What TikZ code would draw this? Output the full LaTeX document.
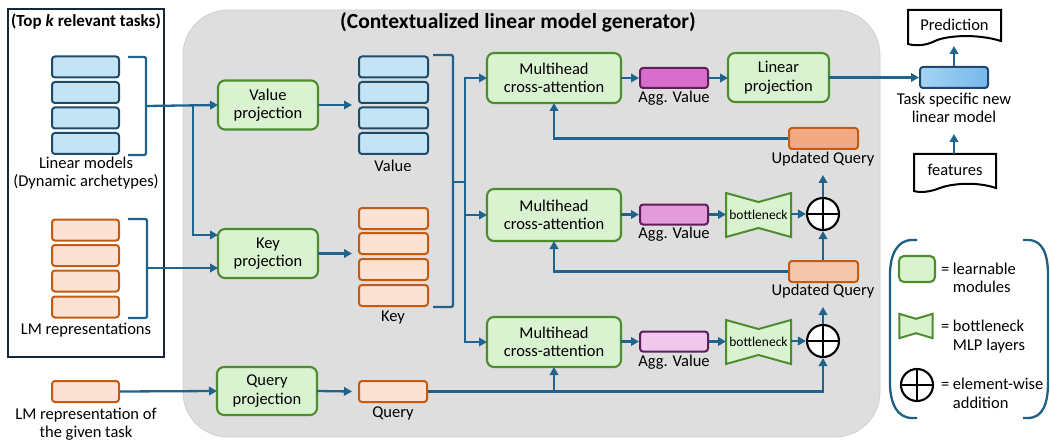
\documentclass[tikz,border=0pt]{standalone}
\usepackage{fontspec}
\setmainfont{Carlito}
\usetikzlibrary{arrows.meta,calc}
\definecolor{arrowc}{RGB}{30,100,140}
\definecolor{gfill}{RGB}{217,242,208}
\definecolor{gdraw}{RGB}{78,140,48}
\definecolor{bfill}{RGB}{196,228,245}
\definecolor{bdraw}{RGB}{30,75,105}
\definecolor{ofill}{RGB}{251,226,213}
\definecolor{odraw}{RGB}{197,90,17}
\definecolor{uqa}{RGB}{242,170,132}
\definecolor{uqb}{RGB}{246,198,172}
\definecolor{ava}{RGB}{216,110,204}
\definecolor{avb}{RGB}{228,155,220}
\definecolor{avc}{RGB}{240,200,236}
\definecolor{avdraw}{RGB}{95,30,88}
\definecolor{bgfill}{RGB}{222,222,222}
\definecolor{bgdraw}{RGB}{208,208,208}
\definecolor{navy}{RGB}{22,40,55}
\definecolor{tbl}{RGB}{165,212,243}
\definecolor{tbr}{RGB}{118,184,234}
\definecolor{tbdraw}{RGB}{30,70,110}
\definecolor{legc}{RGB}{30,95,130}
\tikzset{
  base/.style={font=\fontsize{16.5}{18.5}\selectfont, inner sep=0pt, outer sep=0pt},
  arr/.style={draw=arrowc, line width=2.3pt, -{Triangle[length=8pt,width=8.5pt]}},
  ln/.style={draw=arrowc, line width=2.3pt},
  module/.style={base, draw=gdraw, fill=gfill, line width=2.1pt, rounded corners=7pt, align=center, minimum width=100pt, minimum height=49pt},
  mha/.style={module, minimum width=134pt, minimum height=50pt},
  vbox/.style={draw=bdraw, fill=bfill, line width=2pt, rounded corners=3pt, minimum width=67pt, minimum height=21pt, inner sep=0pt},
  obox/.style={draw=odraw, fill=ofill, line width=2pt, rounded corners=3pt, minimum width=67pt, minimum height=21pt, inner sep=0pt},
  avbox/.style={draw=avdraw, line width=2pt, rounded corners=3pt, minimum width=68pt, minimum height=20pt, inner sep=0pt},
  uqbox/.style={draw=odraw, line width=2pt, rounded corners=3pt, minimum width=69pt, minimum height=21pt, inner sep=0pt},
  lbl/.style={base, align=center},
  plus/.style={circle, draw=black, fill=white, line width=2.1pt, minimum size=32pt, inner sep=0pt},
  bnk/.style={base, font=\fontsize{13.5}{15}\selectfont, minimum width=65pt, minimum height=44pt},
  bnkshape/.style={draw=gdraw, fill=gfill, line width=2pt, line join=miter},
  docshape/.style={draw=black, fill=white, line width=2pt},
}
\begin{document}
\begin{tikzpicture}[x=1pt,y=-1pt]
\useasboundingbox (0,0) rectangle (1050,441);
% backgrounds
\draw[fill=bgfill, draw=bgdraw, line width=0.8pt, rounded corners=45pt] (183,10) rectangle (880,437);
\draw[draw=navy, line width=2.3pt] (8,9) rectangle (164,357);
\node[base, font=\bfseries\fontsize{17}{20}\selectfont] (ttop) at (86,22) {(Top \textit{k} relevant tasks)};
\node[base, font=\bfseries\fontsize{21.5}{24}\selectfont] (tgen) at (518,22) {(Contextualized linear model generator)};

% left stacks
\foreach \y [count=\i] in {67,92.5,118,143.5} \node[vbox] (lm\i) at (85.5,\y) {};
\foreach \y [count=\i] in {230,255.5,281,307} \node[obox] (lr\i) at (85.5,\y) {};
\node[lbl] (tlm) at (86,173) {Linear models\\(Dynamic archetypes)};
\node[lbl] (tlr) at (86,330) {LM representations};
\node[obox] (lmt) at (85.5,391.5) {};
\node[lbl] (tlmt) at (86,424) {LM representation of\\the given task};

% brackets left
\draw[ln, rounded corners=2pt] (128,57) -- (146,57) -- (146,155) -- (128,155);
\draw[ln, rounded corners=2pt] (128,219) -- (147,219) -- (147,318) -- (128,318);
\coordinate (b1) at (146,106);
\coordinate (b2) at (147,268);
\coordinate (j1) at (193,106);

% projections
\node[module] (vp) at (268,105) {Value\\projection};
\node[module] (kp) at (268,253.5) {Key\\projection};
\node[module, minimum height=48pt] (qp) at (267,391) {Query\\projection};

\draw[arr] (b1) -- (vp.west);
\draw[arr] (j1) |- ($(kp.west)+(0,-18.5)$);
\draw[arr] (b2) -- (kp.west |- b2);
\draw[arr] (lmt.east) -- (qp.west);

% value / key / query stacks
\foreach \y [count=\i] in {67,92.5,118,143.5} \node[vbox, minimum width=69pt] (v\i) at (393.5,\y) {};
\foreach \y [count=\i] in {218.5,243.5,269.5,295.5} \node[obox, minimum width=69pt] (k\i) at (393.5,\y) {};
\node[obox, minimum width=68pt] (qr) at (393,391.5) {};
\node[lbl] (tv) at (393,166) {Value};
\node[lbl] (tk) at (393,318) {Key};
\node[lbl] (tq) at (393,413) {Query};

\draw[arr] (vp.east) -- ($(v1.west |- vp.east)+(-6,0)$);
\draw[arr] (kp.east) -- ($(k1.west |- kp.east)+(-6,0)$);
\draw[arr] (qp.east) -- ($(qr.west)+(-6,0)$);

% big bracket
\draw[ln, rounded corners=2pt] (433,55) -- (453,55) -- (453,307) -- (433,307);
\coordinate (bm) at (453,182);
\coordinate (jm) at (465,182);

% MHA
\node[mha] (m1) at (554,78) {Multihead\\cross-attention};
\node[mha, minimum height=52pt] (m2) at (554,215) {Multihead\\cross-attention};
\node[mha] (m3) at (554,342) {Multihead\\cross-attention};

\draw[ln] (bm) -- (jm);
\draw[arr] (jm) |- (m1.west);
\draw[arr] (jm) |- (m2.west);
\draw[arr] (jm) |- (m3.west);

% agg values
\node[avbox, fill=ava] (a1) at (674,78) {};
\node[avbox, fill=avb] (a2) at (674,214.5) {};
\node[avbox, fill=avc] (a3) at (674,341.5) {};
\node[lbl] (ta1) at (674,98) {Agg. Value};
\node[lbl] (ta2) at (674,234) {Agg. Value};
\node[lbl] (ta3) at (674,362) {Agg. Value};
\draw[arr] (m1.east) -- (a1.west);
\draw[arr] (m2.east |- a2.west) -- (a2.west);
\draw[arr] (m3.east |- a3.west) -- (a3.west);

% linear projection
\node[module, minimum width=101pt] (lp) at (778.5,77.5) {Linear\\projection};
\draw[arr] (a1.east) -- (lp.west |- a1.east);

% bottlenecks
\node[bnk] (bn1) at (758.5,215) {};
\node[bnk] (bn2) at (758.5,342) {};
\foreach \b in {bn1,bn2} {
  \draw[bnkshape] (\b.north west) -- ($(\b.north)+(0,9)$) -- (\b.north east) -- (\b.south east) -- ($(\b.south)+(0,-9)$) -- (\b.south west) -- cycle;
  \node[bnk] at (\b) {bottleneck};
}
\draw[arr] (a2.east) -- (bn1.west |- a2.east);
\draw[arr] (a3.east) -- (bn2.west |- a3.east);

% plus
\node[plus] (p1) at (823,214) {};
\node[plus] (p2) at (823,341) {};
\foreach \p in {p1,p2} \draw[line width=2.1pt] (\p.north) -- (\p.south) (\p.west) -- (\p.east);
\draw[arr] (bn1.east |- p1.west) -- (p1.west);
\draw[arr] (bn2.east |- p2.west) -- (p2.west);

% updated queries
\node[uqbox, fill=uqa] (u1) at (823.5,138.5) {};
\node[uqbox, fill=uqb] (u2) at (823.5,271.5) {};
\node[lbl] (tu1) at (823,159) {Updated Query};
\node[lbl] (tu2) at (823,291) {Updated Query};
\coordinate (e1) at (823,175);
\coordinate (e2) at (823,307);
\draw[arr] (p1.north) -- (e1);
\draw[arr] (p2.north) -- (e2);
\draw[arr] (u2.north -| p1.south) -- (p1.south);
\draw[arr] (u1.west) -| (m1.south);
\draw[arr] (u2.west) -| (m2.south);
\draw[arr] (qr.east) -| (p2.south);
\draw[arr] (m3.south |- qr.east) -- (m3.south);

% task specific model
\node[draw=tbdraw, left color=tbl, right color=tbr, line width=2pt, rounded corners=3pt, minimum width=68pt, minimum height=21pt] (tb) at (954,77.5) {};
\node[lbl] (ttb) at (954,108) {Task specific new\\linear model};
\draw[arr] (lp.east) -- (tb.west);

% documents
\draw[docshape] (908,10) -- (1001,10) -- (1001,41) .. controls (975,33) and (945,36) .. (935,41) .. controls (925,46) and (915,46) .. (908,44) -- cycle;
\node[base] (pred) at (954.5,25) {Prediction};
\draw[docshape] (914,154) -- (996,154) -- (996,188) .. controls (975,181) and (950,184) .. (940,188) .. controls (930,192) and (920,193) .. (914,191) -- cycle;
\node[base] (feat) at (955,170) {features};
\coordinate (ptop) at (954,46);
\coordinate (fe) at (954,134);
\draw[arr] (tb.north) -- (ptop);
\draw[arr] (954,154) -- (fe);

% legend
\draw[draw=legc, line width=2.3pt] (917,240) -- (912,240) .. controls (897,240) and (890,255) .. (890,275) -- (890,383) .. controls (890,403) and (897,418) .. (912,418) -- (917,418);
\draw[draw=legc, line width=2.3pt] (1023,240) -- (1028,240) .. controls (1043,240) and (1048,255) .. (1048,275) -- (1048,383) .. controls (1048,403) and (1043,418) .. (1028,418) -- (1023,418);
\node[draw=gdraw, fill=gfill, line width=2.1pt, rounded corners=5pt, minimum width=36pt, minimum height=26pt, inner sep=0pt] (lg) at (917,269) {};
\node[minimum width=33pt, minimum height=24pt, inner sep=0pt] (lb) at (916,326) {};
\draw[bnkshape] (lb.north west) -- ($(lb.north)+(0,5)$) -- (lb.north east) -- (lb.south east) -- ($(lb.south)+(0,-5)$) -- (lb.south west) -- cycle;
\node[plus] (lpl) at (917,385) {};
\draw[line width=2.1pt] (lpl.north) -- (lpl.south) (lpl.west) -- (lpl.east);
\node[base, anchor=west, align=left] (tl1) at (941,278) {= learnable\\\phantom{= }modules};
\node[base, anchor=west, align=left] (tl2) at (941,336.5) {= bottleneck\\\phantom{= }MLP layers};
\node[base, anchor=west, align=left] (tl3) at (941,393.5) {= element-wise\\\phantom{= }addition};
\end{tikzpicture}
\end{document}
